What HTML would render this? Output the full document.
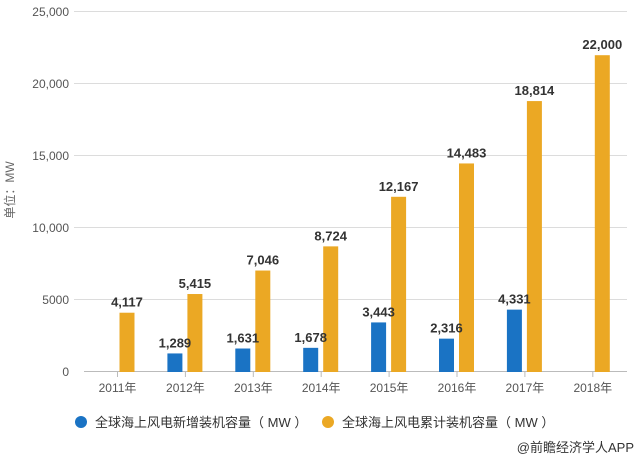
<!DOCTYPE html>
<html><head><meta charset="utf-8"><style>
body{margin:0;background:#fff;}
svg{display:block;font-family:"Liberation Sans","Noto Sans CJK SC",sans-serif;}
</style></head><body>
<svg width="640" height="459" xmlns="http://www.w3.org/2000/svg">
<g stroke="#dcdcdc" stroke-width="1">
<line x1="74" y1="11.5" x2="627" y2="11.5"/>
<line x1="74" y1="83.5" x2="627" y2="83.5"/>
<line x1="74" y1="155.5" x2="627" y2="155.5"/>
<line x1="74" y1="227.5" x2="627" y2="227.5"/>
<line x1="74" y1="299.5" x2="627" y2="299.5"/>
</g>
<line x1="84" y1="371.5" x2="627" y2="371.5" stroke="#bbb"/>
<g fill="#555" font-size="12" text-anchor="end">
<text x="69" y="16">25,000</text>
<text x="69" y="88">20,000</text>
<text x="69" y="160">15,000</text>
<text x="69" y="232">10,000</text>
<text x="69" y="304">5000</text>
<text x="69" y="376">0</text>
</g>
<text transform="translate(14,190) rotate(-90)" fill="#666" font-size="12" text-anchor="middle">单位：MW</text>
<g id="bars"></g>
<g fill="#555" font-size="12" text-anchor="middle" id="xl"></g>
<g font-size="13" font-weight="bold" fill="#333" text-anchor="middle" id="vl"></g>
<circle cx="81" cy="422" r="6" fill="#1a73c4"/>
<text x="95" y="427" font-size="13" fill="#333">全球海上风电新增装机容量（ MW ）</text>
<circle cx="328" cy="422" r="6" fill="#eba824"/>
<text x="342" y="427" font-size="13" fill="#333">全球海上风电累计装机容量（ MW ）</text>
<text x="634" y="452" font-size="13" fill="#333" text-anchor="end">@前瞻经济学人APP</text>
<script>
var ns="http://www.w3.org/2000/svg";
var cum=[4117,5415,7046,8724,12167,14483,18814,22000];
var nw=[null,1289,1631,1678,3443,2316,4331,null];
var b=document.getElementById('bars'),xl=document.getElementById('xl'),vl=document.getElementById('vl');
function el(t,a,p,txt){var e=document.createElementNS(ns,t);for(var k in a)e.setAttribute(k,a[k]);if(txt)e.textContent=txt;p.appendChild(e);}
function f(v){return v.toLocaleString('en-US');}
for(var i=0;i<8;i++){
 var c=117.5+67.9*i;
 el('line',{x1:c,y1:372,x2:c,y2:377,stroke:'#bbb'},b);
 el('text',{x:c,y:392},xl,(2011+i)+'年');
 var h=cum[i]*0.0144;
 el('rect',{x:c+2,y:372-h,width:15,height:h,fill:'#eba824'},b);
 el('text',{x:c+9.5,y:372-h-6},vl,f(cum[i]));
 if(nw[i]){var h2=nw[i]*0.0144;
  el('rect',{x:c-18,y:372-h2,width:15,height:h2,fill:'#1a73c4'},b);
  el('text',{x:c-10.5,y:372-h2-6},vl,f(nw[i]));}
}
</script>
</svg>
</body></html>
